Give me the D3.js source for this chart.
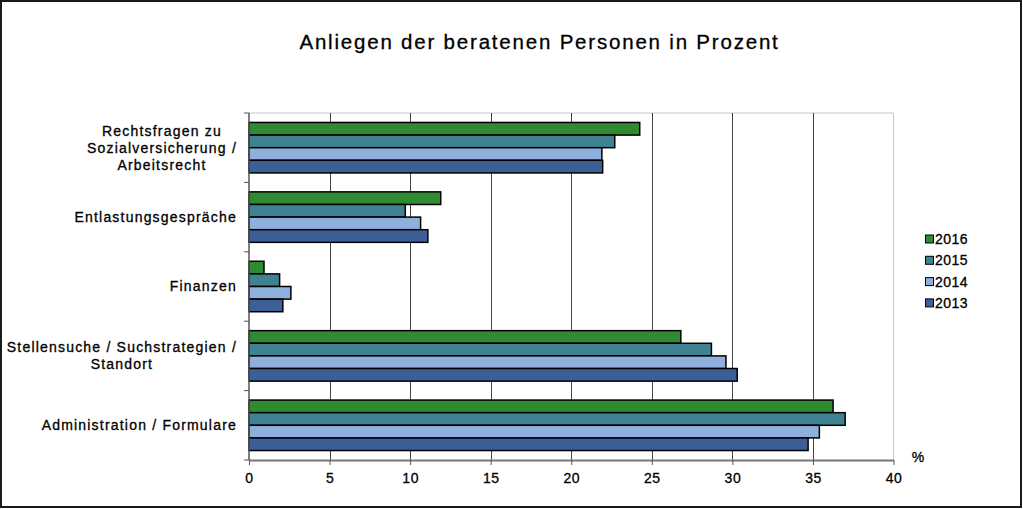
<!DOCTYPE html>
<html><head><meta charset="utf-8">
<script src="https://cdn.jsdelivr.net/npm/d3@7"></script>
<style>body{margin:0;background:#fff;}svg{display:block;font-family:"Liberation Sans",Arial,sans-serif;}
text{stroke:#000;stroke-width:0.3px;}</style>
</head><body><svg id="c" width="1023" height="509"></svg>
<script>
const title = "Anliegen der beratenen Personen in Prozent";
const categories = [
  ["Rechtsfragen zu", "Sozialversicherung /", "Arbeitsrecht"],
  ["Entlastungsgespräche"],
  ["Finanzen"],
  ["Stellensuche / Suchstrategien /", "Standort"],
  ["Administration / Formulare"]
];
const seriesNames = ["2016", "2015", "2014", "2013"];
const colors = ["#2f8a32", "#3f8393", "#8fb0dc", "#3d5f97"];
const v2016 = [24.25, 11.9, 0.93, 26.8, 36.25];
const v2015 = [22.7, 9.7, 1.9, 28.7, 37.0];
const v2014 = [21.9, 10.65, 2.6, 29.6, 35.4];
const v2013 = [21.95, 11.1, 2.1, 30.3, 34.7];
const seriesValues = [v2016, v2015, v2014, v2013];
const xTicks = [0, 5, 10, 15, 20, 25, 30, 35, 40];

const svg = d3.select("#c");
svg.append("rect").attr("x",1).attr("y",1).attr("width",1020).attr("height",506)
  .attr("fill","#fff").attr("stroke","#1a1a1a").attr("stroke-width",2);

const L = 249, R = 893.5, T = 113, B = 460;
const x = d3.scaleLinear().domain([0, 40]).range([L, R]);
const y = d3.scaleBand().domain(d3.range(categories.length)).range([T, B]).paddingInner(0).paddingOuter(0);
const inner = d3.scaleBand().domain(seriesNames).range([0, y.bandwidth()]).paddingInner(0).paddingOuter(0.75);

svg.append("text").attr("x",539.5).attr("y",49).attr("text-anchor","middle")
  .attr("font-size","20.5px").attr("letter-spacing","1.8px").attr("fill","#000").attr("stroke-width","0.5px").text(title);

// plot border (light)
svg.append("line").attr("x1",L).attr("x2",R).attr("y1",T).attr("y2",T).attr("stroke","#c8c8c8");
svg.append("line").attr("x1",R).attr("x2",R).attr("y1",T).attr("y2",B).attr("stroke","#c8c8c8");

// gridlines
svg.append("g").selectAll("line").data(xTicks.slice(1, -1)).join("line")
  .attr("x1",d=>Math.round(x(d))+0.5).attr("x2",d=>Math.round(x(d))+0.5)
  .attr("y1",T).attr("y2",B).attr("stroke","#444").attr("stroke-width",1);

// bars
const groups = svg.append("g").selectAll("g").data(categories.map((c,i)=>i)).join("g")
  .attr("transform", i=>`translate(0,${y(i)})`);
groups.selectAll("rect").data(i=>seriesNames.map((s,k)=>({s,k,v:seriesValues[k][i]}))).join("rect")
  .attr("x", x(0)).attr("y", d=>inner(d.s)).attr("width", d=>x(d.v)-x(0)).attr("height", inner.bandwidth())
  .attr("fill", d=>colors[d.k]).attr("stroke","#000").attr("stroke-width",1.5);

// x axis
const xa = svg.append("g").attr("transform",`translate(0,${B})`)
  .call(d3.axisBottom(x).tickValues(xTicks).tickSize(5).tickSizeOuter(0).tickFormat(d3.format("d")));
xa.select(".domain").attr("stroke","#777").attr("stroke-width",2);
xa.selectAll(".tick line").attr("stroke","#555");
xa.selectAll("text").attr("font-size","14px").attr("fill","#000").attr("dy","1.05em").attr("letter-spacing","0.5px")
  .attr("font-family","'Liberation Sans',Arial,sans-serif");

// y axis
const ya = svg.append("g").attr("transform",`translate(${L},0)`);
ya.append("line").attr("x1",0).attr("x2",0).attr("y1",T).attr("y2",B).attr("stroke","#555").attr("stroke-width",1.5);
ya.selectAll("line.t").data(d3.range(categories.length+1)).join("line").attr("class","t")
  .attr("x1",-5).attr("x2",0)
  .attr("y1",i=>i<categories.length? y(i): B).attr("y2",i=>i<categories.length? y(i): B)
  .attr("stroke","#555");

// category labels
const lh = 17;
const labelRight = 237;
categories.forEach((lines,i)=>{
  const cy = y(i) + y.bandwidth()/2;
  const t = svg.append("text").attr("font-size","14px").attr("fill","#000").attr("text-anchor","middle")
    .attr("letter-spacing","1.2px");
  const spans = lines.map((ln,j)=>
    t.append("tspan").attr("x",0).attr("y", cy + (j-(lines.length-1)/2)*lh).attr("dy","0.35em").text(ln));
  const w = d3.max(spans, s=>s.node().getComputedTextLength());
  spans.forEach(s=>s.attr("x", labelRight - w/2));
});

// % label
svg.append("text").attr("x",918).attr("y",462).attr("text-anchor","middle").attr("font-size","14px").text("%");

// legend
const lg = svg.append("g");
seriesNames.forEach((s,k)=>{
  const ly = 239 + k*21.3;
  lg.append("rect").attr("x",925.5).attr("y",ly-4).attr("width",8).attr("height",8)
    .attr("fill",colors[k]).attr("stroke","#000").attr("stroke-width",1);
  lg.append("text").attr("x",935).attr("y",ly).attr("dy","0.36em").attr("font-size","14px")
    .attr("letter-spacing","0.5px").text(s);
});
</script></body></html>
